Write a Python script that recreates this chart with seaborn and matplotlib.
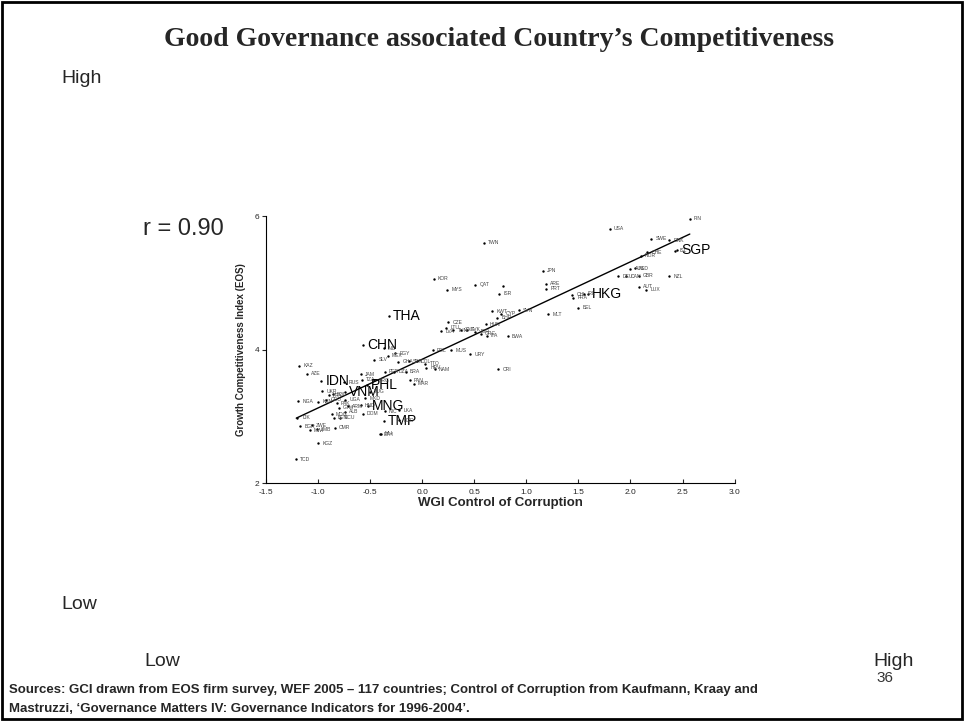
import matplotlib
matplotlib.use("Agg")
import matplotlib.pyplot as plt
import matplotlib.patches as patches
import seaborn as sns
import pandas as pd

# country codes, WGI control of corruption (x), GCI from EOS (y)
codes = ["FIN", "USA", "TWN", "SWE", "DNK", "ISL", "SGP", "CHE", "NOR", "AUS",
         "NLD", "DEU", "CAN", "GBR", "NZL", "AUT", "LUX", "BEL", "HKG", "CHL",
         "FRA", "IRL", "JPN", "ARE", "PRT", "QAT", "", "ISR", "MYS", "KOR",
         "KWT", "CYP", "SVN", "BHR", "MLT", "HUN", "CZE", "LVA", "LTU", "TUN",
         "ZAF", "SVK", "JOR", "GRC", "ITA", "BWA", "THA", "POL", "MUS", "URY",
         "CRI", "CHN", "IND", "SLV", "MEX", "EGY", "GHA", "SEN", "COL", "TTO",
         "HRV", "NAM", "PER", "DZA", "BRA", "PAN", "MAR", "KAZ", "AZE", "IDN",
         "RUS", "JAM", "TZA", "PHL", "ARG", "YUG", "VNM", "UKR", "PRY", "BOL",
         "NGA", "KEN", "GEO", "PAK", "UGA", "MKD", "HND", "ARM", "GTM", "ALB",
         "MDG", "ECU", "BEN", "MNG", "NIC", "LKA", "TMP", "BGD", "DOM", "ETH",
         "MLI", "TJK", "CMR", "BGR", "ZWE", "MWI", "ZMB", "KGZ", "TCD"]
corruption = [2.57, 1.80, 0.59, 2.20, 2.37, 2.43, 2.45, 2.16, 2.10, 2.00,
              2.04, 1.88, 1.96, 2.08, 2.37, 2.08, 2.15, 1.50, 1.59, 1.44,
              1.45, 1.55, 1.16, 1.19, 1.19, 0.51, 0.78, 0.74, 0.24, 0.11,
              0.67, 0.76, 0.93, 0.72, 1.21, 0.61, 0.25, 0.18, 0.23, 0.30,
              0.37, 0.43, 0.51, 0.56, 0.62, 0.82, -0.32, 0.10, 0.28, 0.46,
              0.73, -0.57, -0.37, -0.46, -0.33, -0.26, -0.23, -0.13, -0.05, 0.03,
              0.04, 0.12, -0.36, -0.27, -0.16, -0.12, -0.08, -1.18, -1.11, -0.97,
              -0.75, -0.59, -0.58, -0.53, -0.46, -0.50, -0.74, -0.96, -0.90, -0.86,
              -1.19, -1.00, -0.92, -0.82, -0.74, -0.55, -0.59, -0.71, -0.80, -0.74,
              -0.87, -0.79, -0.85, -0.52, -0.36, -0.22, -0.37, -0.22, -0.57, -0.41,
              -0.40, -1.20, -0.84, -1.17, -1.06, -1.08, -1.01, -1.00, -1.21]
gci = [5.96, 5.81, 5.60, 5.66, 5.64, 5.48, 5.49, 5.46, 5.41, 5.21,
       5.22, 5.10, 5.10, 5.11, 5.10, 4.94, 4.90, 4.63, 4.83, 4.82,
       4.78, 4.84, 5.18, 4.99, 4.91, 4.97, 4.96, 4.84, 4.90, 5.06,
       4.58, 4.54, 4.59, 4.48, 4.53, 4.38, 4.41, 4.28, 4.33, 4.29,
       4.30, 4.30, 4.27, 4.24, 4.21, 4.20, 4.50, 3.99, 3.99, 3.93,
       3.71, 4.07, 4.02, 3.85, 3.91, 3.95, 3.82, 3.83, 3.83, 3.79,
       3.73, 3.71, 3.67, 3.67, 3.67, 3.54, 3.49, 3.76, 3.64, 3.53,
       3.51, 3.63, 3.55, 3.47, 3.54, 3.37, 3.37, 3.38, 3.32, 3.33,
       3.23, 3.22, 3.25, 3.20, 3.25, 3.27, 3.17, 3.15, 3.13, 3.07,
       3.03, 2.98, 2.98, 3.15, 3.08, 3.09, 2.93, 2.94, 3.04, 2.73,
       2.74, 2.98, 2.83, 2.85, 2.87, 2.79, 2.81, 2.60, 2.36]
# highlighted countries get large labels
big_codes = ["SGP", "HKG", "THA", "CHN", "IDN", "PHL", "VNM", "MNG", "TMP"]

df = pd.DataFrame({"code": codes, "cc": corruption, "gci": gci})

sns.set_style("white")
plt.rcParams["font.family"] = ["Liberation Sans", "DejaVu Sans"]

fig = plt.figure(figsize=(9.64, 7.21), dpi=100)
ax = fig.add_axes([0.276, 0.330, 0.486, 0.370])

sns.regplot(data=df, x="cc", y="gci", ax=ax, scatter=False, ci=None,
            color="black", line_kws={"linewidth": 1.0})
sns.scatterplot(data=df, x="cc", y="gci", ax=ax, color="black", s=3,
                edgecolor=None, linewidth=0)

for _, row in df.iterrows():
    if row["code"] in big_codes:
        ax.annotate(row["code"], (row["cc"], row["gci"]), xytext=(3, 0),
                    textcoords="offset points", fontsize=10, va="center",
                    color="black")
    elif row["code"]:
        ax.annotate(row["code"], (row["cc"], row["gci"]), xytext=(3, 0),
                    textcoords="offset points", fontsize=3.6, va="center",
                    color="#444444")

ax.set_xlim(-1.5, 3.0)
ax.set_ylim(2, 6)
ax.set_xticks([-1.5, -1.0, -0.5, 0.0, 0.5, 1.0, 1.5, 2.0, 2.5, 3.0])
ax.set_xticklabels(["-1.5", "-1.0", "-0.5", "0.0", "0.5", "1.0", "1.5", "2.0", "2.5", "3.0"])
ax.set_yticks([2, 4, 6])
ax.tick_params(axis="x", direction="in", length=3, width=0.8, labelsize=6, pad=4)
ax.tick_params(axis="y", direction="out", length=3, width=0.8, labelsize=6, pad=2)
ax.xaxis.set_ticks_position("bottom")
ax.yaxis.set_ticks_position("left")
sns.despine(ax=ax)
for s in ["left", "bottom"]:
    ax.spines[s].set_color("black")
    ax.spines[s].set_linewidth(0.8)
ax.set_xlabel("WGI Control of Corruption", fontsize=9.5, fontweight="bold", labelpad=1)
ax.set_ylabel("Growth Competitiveness Index (EOS)", fontsize=7, fontweight="bold", labelpad=6)

# slide texts
fig.text(0.518, 0.945, "Good Governance associated Country\u2019s Competitiveness",
         ha="center", va="center", fontsize=20, fontweight="bold",
         family=["Liberation Serif", "DejaVu Serif"])
fig.text(0.064, 0.891, "High", fontsize=14, va="center")
fig.text(0.148, 0.682, "r = 0.90", fontsize=17, va="center")
fig.text(0.064, 0.161, "Low", fontsize=14, va="center")
fig.text(0.150, 0.082, "Low", fontsize=14, va="center")
fig.text(0.906, 0.082, "High", fontsize=14, va="center")
fig.text(0.909, 0.060, "36", fontsize=11, va="center", color="#333333")
fig.text(0.009, 0.043,
         "Sources: GCI drawn from EOS firm survey, WEF 2005 \u2013 117 countries; Control of Corruption from Kaufmann, Kraay and",
         fontsize=9.5, fontweight="bold", va="center")
fig.text(0.009, 0.016,
         "Mastruzzi, \u2018Governance Matters IV: Governance Indicators for 1996-2004\u2019.",
         fontsize=9.5, fontweight="bold", va="center")

frame = patches.Rectangle((0.002, 0.003), 0.996, 0.994, transform=fig.transFigure,
                          fill=False, edgecolor="black", linewidth=2)
fig.patches.append(frame)

fig.savefig("out.png", dpi=100)
